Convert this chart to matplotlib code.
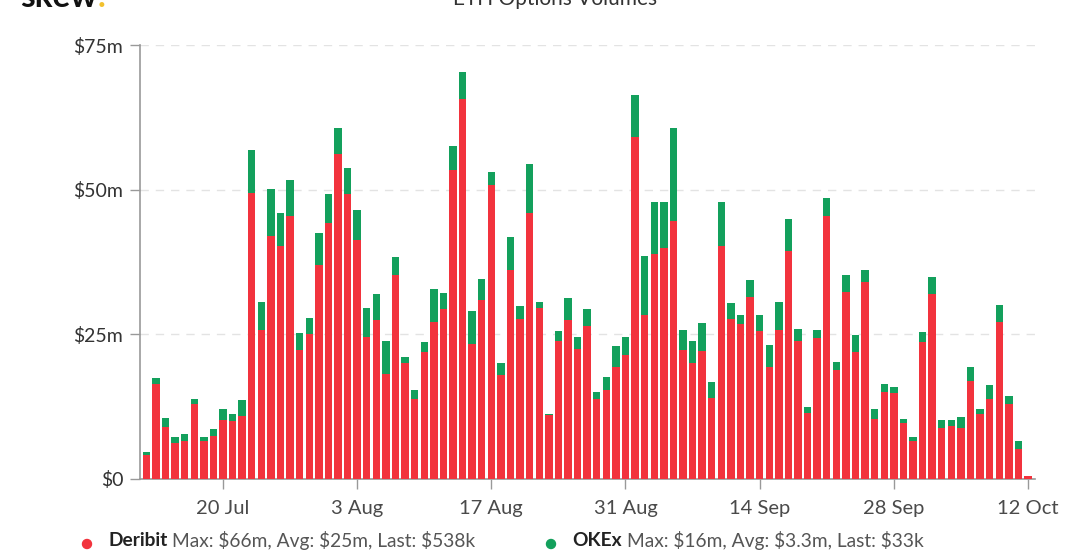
import matplotlib
matplotlib.use("Agg")
import matplotlib.pyplot as plt
import matplotlib.dates as mdates
import pandas as pd
import numpy as np

plt.rcParams['font.family'] = ['Lato', 'DejaVu Sans']

start_date = "2020-07-12"
deribit = [4.15, 16.4, 8.9, 6.3, 6.6, 13.0, 6.6, 7.4, 10.2, 10.1, 10.9, 49.4, 25.7, 42.0, 40.3, 45.5,
           22.3, 25.1, 36.9, 44.2, 56.2, 49.2, 41.3, 24.6, 27.5, 18.2, 35.2, 20.1, 13.8, 21.9, 27.2,
           29.4, 53.4, 65.7, 23.3, 31.0, 50.8, 17.9, 36.1, 27.7, 46.0, 29.6, 11.0, 23.9, 27.5, 22.4,
           26.5, 13.8, 15.4, 19.4, 21.4, 59.1, 28.3, 38.9, 39.9, 44.5, 22.3, 20.0, 22.1, 14.0, 40.3,
           27.6, 26.8, 31.5, 25.6, 19.4, 25.7, 39.4, 23.8, 11.4, 24.3, 45.4, 18.9, 32.4, 21.9, 34.1,
           10.4, 15.1, 14.9, 9.7, 6.5, 23.6, 32.0, 8.8, 9.2, 8.8, 16.9, 11.2, 13.9, 27.2, 12.9, 5.1, 0.54]
okex = [0.5, 1.1, 1.6, 1.0, 1.2, 0.8, 0.6, 1.3, 1.9, 1.1, 2.7, 7.5, 4.9, 8.1, 5.7, 6.1,
        2.9, 2.8, 5.6, 5.0, 4.4, 4.5, 5.2, 5.0, 4.4, 5.6, 3.2, 0.9, 1.5, 1.7, 5.6,
        2.7, 4.2, 4.7, 5.8, 3.5, 2.3, 2.2, 5.8, 2.2, 8.4, 1.0, 0.2, 1.6, 3.7, 2.1,
        2.9, 1.3, 2.2, 3.6, 3.2, 7.3, 10.2, 9.0, 8.0, 16.2, 3.5, 3.8, 4.9, 2.8, 7.6,
        2.8, 1.6, 2.9, 2.7, 3.8, 4.9, 5.6, 2.1, 1.0, 1.4, 3.2, 1.4, 2.8, 2.9, 2.0,
        1.7, 1.3, 1.0, 0.6, 0.7, 1.8, 2.9, 1.4, 1.0, 2.0, 2.4, 0.9, 2.4, 2.8, 1.5, 1.4, 0.03]
x_ticks = ["2020-07-20", "2020-08-03", "2020-08-17", "2020-08-31", "2020-09-14", "2020-09-28", "2020-10-12"]
x_tick_labels = ["20 Jul", "3 Aug", "17 Aug", "31 Aug", "14 Sep", "28 Sep", "12 Oct"]
y_ticks = [0, 25, 50, 75]
y_tick_labels = ["$0", "$25m", "$50m", "$75m"]
series_names = ["Deribit", "OKEx"]
legend_stats = ["Max: $66m, Avg: $25m, Last: $538k", "Max: $16m, Avg: $3.3m, Last: $33k"]

RED = "#F2333D"
GREEN = "#13A05C"
W, H = 1080, 555

dates = pd.date_range(start_date, periods=len(deribit), freq="D")
xd = mdates.date2num(dates)

fig = plt.figure(figsize=(W / 100, H / 100), dpi=100)
ax = fig.add_axes([140 / W, (H - 479) / H, (1035 - 140) / W, (479 - 45) / H])

ax.bar(xd, deribit, width=0.77, color=RED, linewidth=0, zorder=3)
ax.bar(xd, okex, bottom=deribit, width=0.77, color=GREEN, linewidth=0, zorder=3)

ax.set_xlim(xd[0] - 0.66, xd[-1] + 0.73)
ax.set_ylim(0, 75)

ax.set_yticks(y_ticks)
ax.set_yticklabels(y_tick_labels)
ax.set_xticks(mdates.date2num(pd.to_datetime(x_ticks)))
ax.set_xticklabels(x_tick_labels)

for v in y_ticks[1:]:
    ax.axhline(v, color="#e3e3e3", linewidth=1, linestyle=(0, (6, 5)), zorder=1)

for s in ["top", "right"]:
    ax.spines[s].set_visible(False)
for s in ["left", "bottom"]:
    ax.spines[s].set_color("#999999")
    ax.spines[s].set_linewidth(1.2)

ax.tick_params(axis="y", length=7, width=1, color="#999999", labelsize=14,
               labelcolor="#333333", pad=5)
ax.tick_params(axis="x", length=7, width=1, color="#999999", labelsize=14.5,
               labelcolor="#4a4a4a", pad=8)
ax.set_facecolor("white")

# Title and logo (cut off at the top edge, as in the reference)
fig.text(555 / W, 1 - 5 / H, "ETH Options Volumes", ha="center", va="baseline",
         fontsize=15, color="#333333")
logo = fig.text(20 / W, 1 - 7 / H, "skew", ha="left", va="baseline",
                fontsize=24, fontweight="bold", color="#111111")
fig.canvas.draw()
r = fig.canvas.get_renderer()
bb = logo.get_window_extent(r)
fig.text((bb.x1 + 1) / W, 1 - 7 / H, ".", ha="left", va="baseline",
         fontsize=24, fontweight="bold", color="#F2C12E")

# Legend
ly = 1 - 541 / H
for name, stats, color, x0 in [(series_names[0], legend_stats[0], RED, 87),
                               (series_names[1], legend_stats[1], GREEN, 551)]:
    fig.patches.append(matplotlib.patches.Ellipse((x0 / W, 1 - 544 / H), 9 / W, 9 / H,
                                                  transform=fig.transFigure, color=color,
                                                  figure=fig))
    t = fig.text((x0 + 21) / W, ly, name, ha="left", va="center", fontsize=13.8,
                 fontweight="bold", color="#222222")
    fig.canvas.draw()
    b = t.get_window_extent(fig.canvas.get_renderer())
    fig.text((b.x1 + 5) / W, ly, stats, ha="left", va="center", fontsize=13.8,
             color="#555555")

fig.savefig("out.png", dpi=100, facecolor="white")
